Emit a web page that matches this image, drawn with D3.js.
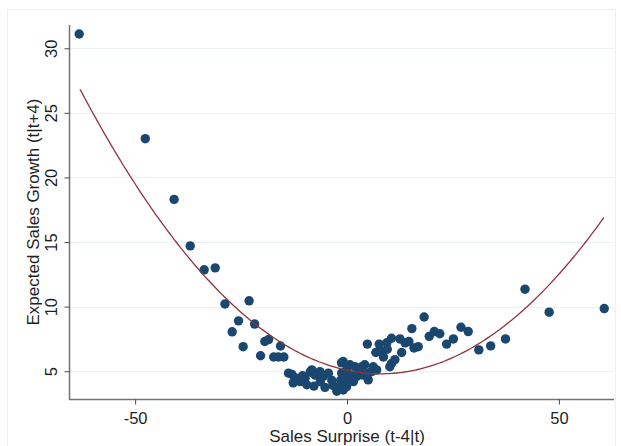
<!DOCTYPE html>
<html>
<head>
<meta charset="utf-8">
<script src="https://cdn.jsdelivr.net/npm/d3@7"></script>
<style>
  html, body { margin: 0; padding: 0; background: #ffffff; }
  svg { display: block; font-family: "Liberation Sans", Arial, sans-serif; }
</style>
</head>
<body>
<svg id="chart" width="621" height="446"></svg>
<script>
// ---- data ----
const surprise = [
  -63.2, -47.6, -40.8, -37.0, -33.7, -31.1, -28.8, -27.1, -25.6, -24.5,
  -23.1, -21.8, -20.4, -19.4, -18.5, -17.3, -16.2, -15.7, -14.9,
  -13.8, -13.0, -12.3, -12.7, -11.1, -10.5, -9.9, -9.5, -8.7, -8.3,
  -8.0, -7.8, -7.5, -6.8, -6.4, -6.3, -5.6, -5.2, -4.4, -3.6,
  -3.3, -2.4, -2.1, -1.3, -0.5, -0.1, -0.9, -1.5, -1.25, -0.9,
  0.7, 1.9, 3.5, 4.2, -0.1, -1.25, -0.5, 1.1, 3.1, 3.8,
  2.3, 5.0, 5.0, -1.25, -0.1, 1.5, 6.2, 7.0, 5.8, 4.8,
  7.6, 6.8, 8.0, 9.5, 10.5, 9.4, 12.5, 13.7, 14.6, 15.3,
  16.8, 15.8, 12.9, 18.2, 19.4, 20.6, 21.9, 23.5, 25.1, 26.9,
  28.6, 31.1, 33.9, 37.4, 42.0, 47.7, 60.7, 8.6, 10.5, 11.3, 10.1
];
const growth = [
  31.1, 23.0, 18.3, 14.7, 12.85, 13.0, 10.2, 8.05, 8.9, 6.9,
  10.45, 8.65, 6.2, 7.3, 7.45, 6.1, 6.1, 6.95, 6.1,
  4.85, 4.75, 4.5, 4.1, 4.2, 4.65, 4.45, 3.95, 4.95, 5.1,
  4.85, 3.85, 4.7, 4.85, 4.97, 4.2, 4.6, 3.75, 4.85, 4.3,
  3.9, 3.45, 3.75, 5.65, 4.85, 4.3, 3.55, 4.3, 4.85, 5.75,
  5.5, 5.35, 5.35, 5.5, 5.1, 4.07, 4.6, 4.7, 4.85, 4.7,
  4.6, 4.85, 4.33, 4.07, 3.8, 4.2, 5.35, 5.1, 4.97, 7.1,
  7.1, 6.45, 6.6, 6.7, 7.55, 7.2, 7.5, 7.2, 7.3, 8.3,
  6.9, 6.8, 6.45, 9.2, 7.7, 8.07, 7.9, 7.1, 7.5, 8.4,
  8.07, 6.65, 6.96, 7.5, 11.35, 9.57, 9.85, 6.1, 5.6, 5.9, 5.35
];
// quadratic fit: y = c0 + c1*x + c2*x^2 (estimated from the drawn fit line)
const fitCoef = [5.08, -0.0699, 0.00437];
const fitRange = [-63, 60.6];
const xTicks = [-50, 0, 50];
const yTicks = [5, 10, 15, 20, 25, 30];
const xTitle = "Sales Surprise (t-4|t)";
const yTitle = "Expected Sales Growth (t|t+4)";

// ---- drawing ----
const svg = d3.select("#chart");
const pLeft = 69, pRight = 614, pTop = 25, pBottom = 399;

const x = d3.scaleLinear().domain([-65.6, 63]).range([pLeft, pRight]);
const y = d3.scaleLinear().domain([2.85, 31.8]).range([pBottom, pTop]);

// outer frame
svg.append("rect")
  .attr("x", 7.5).attr("y", 9.5).attr("width", 608).attr("height", 450)
  .attr("fill", "#ffffff").attr("stroke", "#eaf0f2").attr("stroke-width", 1);

// gridlines
svg.append("g").selectAll("line").data(yTicks).join("line")
  .attr("x1", pLeft).attr("x2", pRight)
  .attr("y1", d => Math.round(y(d)) + 0.5).attr("y2", d => Math.round(y(d)) + 0.5)
  .attr("stroke", "#eaf2f3").attr("stroke-width", 1.2);

// fit line
const fitX = d3.range(fitRange[0], fitRange[1] + 0.001, (fitRange[1] - fitRange[0]) / 200);
const fitLine = d3.line()
  .x(d => x(d))
  .y(d => y(fitCoef[0] + fitCoef[1] * d + fitCoef[2] * d * d));

// points
const pts = surprise.map((s, i) => ({ s, g: growth[i] }));
svg.append("g").selectAll("circle").data(pts).join("circle")
  .attr("cx", d => x(d.s)).attr("cy", d => y(d.g))
  .attr("r", 4.7)
  .attr("fill", "#1a476f");

svg.append("path").datum(fitX)
  .attr("d", fitLine)
  .attr("fill", "none")
  .attr("stroke", "#90353b")
  .attr("stroke-width", 1.3);

// axes
const fmt = d => String(d);
const xAxis = d3.axisBottom(x).tickValues(xTicks).tickFormat(fmt).tickSize(5).tickPadding(4);
const gx = svg.append("g").attr("transform", `translate(0,${pBottom + 0.5})`).call(xAxis);
gx.select(".domain").attr("d", `M${pLeft},0H${pRight}`);

const yAxis = d3.axisLeft(y).tickValues(yTicks).tickFormat(fmt).tickSize(5).tickPadding(4);
const gy = svg.append("g").attr("transform", `translate(${pLeft + 0.5},0)`).call(yAxis);
gy.select(".domain").attr("d", `M0,${pTop}V${pBottom + 0.5}`);

[gx, gy].forEach(g => {
  g.select(".domain").attr("stroke", "#737373").attr("stroke-width", 1.5);
  g.selectAll(".tick line").attr("stroke", "#4a4a4a").attr("stroke-width", 1);
  g.selectAll(".tick text").attr("fill", "#1f1f1f")
    .style("font-size", "16.5px").style("font-family", "'Liberation Sans', Arial, sans-serif");
});

// rotate y tick labels
gy.selectAll(".tick text")
  .attr("x", null).attr("dy", null)
  .attr("text-anchor", "middle")
  .attr("transform", "translate(-13,0) rotate(-90)");

gx.selectAll(".tick text").attr("dy", "0.95em");

// titles
svg.append("text")
  .attr("x", x(0)).attr("y", 442)
  .attr("text-anchor", "middle")
  .attr("fill", "#1f1f1f")
  .style("font-size", "17px")
  .text(xTitle);

svg.append("text")
  .attr("transform", `translate(39,${(pTop + pBottom) / 2}) rotate(-90)`)
  .attr("text-anchor", "middle")
  .attr("fill", "#1f1f1f")
  .style("font-size", "17px")
  .text(yTitle);
</script>
</body>
</html>
